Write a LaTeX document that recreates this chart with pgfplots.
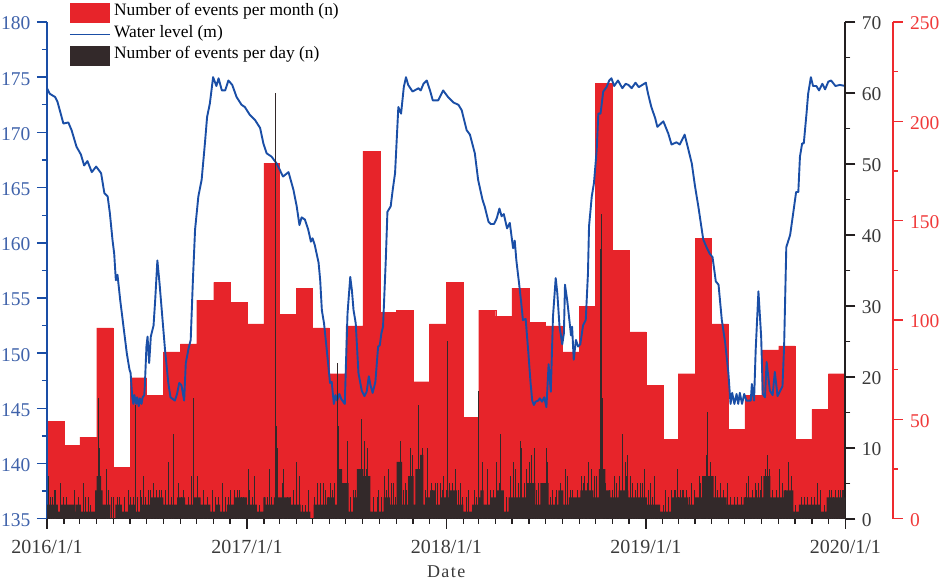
\documentclass[border=0pt]{standalone}
\usepackage{pgfplots}
\pgfplotsset{compat=1.18}
\usepackage{pgfplotstable}
\usepackage{fontspec}
\setmainfont{Liberation Serif}
\newfontfamily\datefont[LetterSpace=8]{Liberation Serif}
\definecolor{redbar}{HTML}{E7242A}
\definecolor{redaxis}{HTML}{EE2A2E}
\definecolor{redtext}{HTML}{F03A3A}
\definecolor{wblue}{HTML}{1A4EA6}
\definecolor{bluetext}{HTML}{3F62AA}
\definecolor{daily}{HTML}{33292A}
\definecolor{blackaxis}{HTML}{231F20}
\definecolor{graytext}{HTML}{3A3A3A}

\pgfplotstableread{
day n
0 49
31 37
60 41
91 96
121 26
152 71
182 62
213 84
244 88
274 110
305 119
335 109
366 98
397 179
425 103
456 116
486 96
517 73
547 97
578 185
609 104
639 105
670 69
700 98
731 119
762 51
790 105
821 102
851 116
882 99
912 97
943 84
974 107
1004 219
1035 135
1065 94
1096 67
1127 40
1155 73
1186 141
1216 98
1247 45
1277 62
1308 85
1339 87
1369 40
1400 55
1430 73
1461 73
}\monthly

\pgfplotstableread{
day level
0 174.0
5 173.5
15 173.2
19 172.8
24 171.9
30 170.8
39 170.9
45 170.2
54 168.7
62 168.0
68 167.0
74 167.4
82 166.4
90 166.9
99 166.3
105 164.5
111 164.2
115 162.7
120 160.2
123 159.0
126 156.6
129 157.1
134 154.8
140 152.4
146 150.0
151 148.5
153 148.2
156 146.0
158 145.4
160 146.2
163 145.4
165 146.0
168 145.2
170 145.9
173 145.4
175 146.0
178 146.2
179 147.0
182 150.6
184 151.5
187 149.1
190 151.5
195 152.5
198 154.8
202 158.4
206 156.3
210 153.9
216 150.3
222 147.3
226 146.0
234 145.7
238 146.3
242 147.3
246 147.1
251 145.7
254 149.1
259 150.4
263 151.2
267 156.6
271 161.2
277 164.2
283 165.7
289 169.0
293 171.4
298 172.6
304 175.0
310 174.2
314 174.9
320 173.8
326 173.8
332 174.7
339 174.3
347 173.2
356 172.5
362 172.3
371 171.6
381 171.1
390 170.4
396 169.0
402 168.1
411 167.8
420 167.2
432 166.0
442 166.4
451 164.8
457 163.3
462 161.6
466 162.3
472 162.1
478 161.2
483 160.1
486 160.4
490 159.8
497 158.2
500 156.6
503 153.9
507 152.7
512 150.3
518 147.3
521 147.4
525 145.4
528 146.2
531 145.7
535 146.3
539 145.8
545 145.4
547 148.8
550 153.6
555 156.9
558 155.7
561 153.9
565 152.7
570 148.2
576 146.6
581 146.1
585 146.5
589 147.9
592 147.1
596 146.4
601 147.4
606 150.6
609 150.7
612 151.8
615 152.4
619 157.2
620 158.4
623 162.8
629 163.3
633 164.9
637 166.3
643 172.3
648 171.7
653 174.1
657 175.0
661 174.3
669 173.7
680 174.0
684 173.8
689 174.4
695 174.7
701 173.8
706 172.9
716 172.9
725 173.8
734 173.2
744 172.7
753 172.5
759 172.0
768 170.2
774 169.8
783 168.1
789 165.7
797 163.9
801 163.3
808 161.9
812 161.7
818 161.7
823 162.2
828 163.1
832 162.4
836 162.6
842 161.3
847 161.8
853 159.5
856 160.2
859 158.4
864 156.3
868 154.5
871 153.0
876 153.1
881 150.0
885 147.3
888 145.7
891 145.3
894 145.6
899 145.7
902 145.9
906 145.6
910 146.0
914 145.1
918 149.0
922 146.5
926 153.3
931 156.8
934 155.4
938 152.4
943 150.8
946 151.8
948 156.2
952 154.8
956 153.0
959 151.6
961 152.4
964 149.4
968 151.2
972 150.6
976 150.8
981 152.5
986 153.0
990 157.2
992 161.5
997 164.2
1001 165.4
1006 168.4
1009 171.7
1013 171.7
1018 173.7
1024 174.1
1029 174.7
1033 174.9
1038 174.2
1045 174.7
1053 174.0
1059 174.4
1064 174.3
1070 174.0
1077 174.5
1083 174.1
1096 174.5
1100 173.5
1106 172.3
1113 171.3
1117 170.5
1128 171.0
1137 169.9
1143 168.9
1152 169.1
1158 168.9
1167 169.8
1174 168.4
1180 167.2
1186 165.1
1192 163.3
1201 160.3
1207 159.6
1213 159.0
1218 158.7
1224 156.5
1229 156.2
1235 153.0
1241 151.0
1247 148.2
1251 145.4
1254 146.4
1258 145.4
1262 146.3
1265 145.4
1268 146.4
1272 145.4
1276 146.3
1280 145.7
1288 145.7
1290 147.2
1294 145.7
1297 150.3
1302 155.6
1307 151.5
1310 146.3
1314 146.0
1317 149.2
1323 146.6
1328 146.2
1332 148.3
1337 146.1
1341 146.5
1346 147.0
1349 150.6
1353 159.6
1360 160.7
1364 162.1
1371 164.6
1375 164.6
1378 167.8
1382 169.0
1385 169.0
1390 171.7
1393 173.5
1398 175.0
1402 174.2
1408 174.2
1413 173.8
1419 174.4
1424 173.9
1430 174.6
1435 174.7
1443 174.2
1451 174.3
1461 174.2
}\water

\pgfplotstableread{
day n
0 2
20 1
24 2
50 1
52 2
62 1
85 1
88 4
91 6
99 4
102 2
116 0
125 2
137 1
149 2
162 1
174 2
189 3
213 2
238 3
253 2
268 3
281 2
299 1
308 2
317 1
329 2
342 3
366 2
384 1
396 3
400 2
415 3
445 2
464 1
482 0
488 2
512 3
525 2
531 7
540 5
552 1
561 3
567 7
579 6
592 1
616 3
628 2
640 8
650 2
661 6
671 2
674 7
683 9
689 2
692 3
701 4
711 2
720 3
732 3
735 4
750 2
762 1
778 2
790 3
793 4
799 2
811 3
824 4
836 1
845 3
878 5
894 2
903 5
918 2
936 4
945 2
955 3
976 4
1000 3
1010 7
1022 4
1031 3
1046 4
1064 3
1098 2
1122 1
1144 3
1174 2
1186 3
1199 6
1220 3
1244 2
1275 3
1311 6
1324 3
1348 4
1366 1
1376 2
1415 1
1427 3
1461 3
}\dailybase

\pgfplotstableread{
day n
3 6
7 3
10 3
13 4
16 4
24 5
30 3
36 3
44 2
50 4
57 3
67 5
70 3
75 3
80 2
94 17
95 10
109 7
112 4
118 3
122 3
128 3
133 3
142 3
148 4
152 3
158 3
161 16
162 5
166 3
170 4
173 3
177 6
180 3
185 4
190 4
195 5
200 4
205 4
210 4
217 4
223 8
228 3
232 12
241 5
245 3
250 4
258 3
264 6
268 17
275 6
287 4
293 3
302 4
308 3
313 3
321 5
326 3
331 3
336 4
342 4
348 4
352 4
356 3
360 3
369 7
371 4
375 3
379 6
389 2
398 3
404 3
407 7
411 3
418 60
419 13
421 10
422 10
430 5
433 7
440 3
446 3
451 4
456 8
461 6
468 2
472 2
478 4
490 3
495 5
500 5
505 5
510 4
515 3
518 5
522 4
526 5
532 22
533 13
538 6
543 5
546 5
550 11
556 3
560 4
565 4
572 7
575 14
580 11
584 7
587 10
590 4
597 3
604 3
607 4
611 3
618 6
621 4
624 7
630 5
634 5
637 3
642 8
647 11
652 4
655 5
658 4
665 10
669 9
679 16
687 10
692 4
697 10
703 5
706 4
710 5
715 5
720 5
724 4
726 6
730 4
733 25
737 5
742 5
747 7
752 4
756 5
760 3
768 3
772 4
782 4
786 3
789 18
797 8
805 7
812 4
816 4
822 8
828 5
830 12
840 3
848 6
853 8
857 7
862 5
867 11
869 10
873 5
877 7
883 8
886 9
892 10
896 4
900 5
908 5
914 10
915 8
921 3
925 4
930 3
933 4
940 5
949 7
952 6
958 4
962 4
970 4
978 6
982 5
984 6
988 5
991 8
996 7
1002 6
1006 6
1013 38
1014 43
1015 19
1016 17
1022 5
1029 4
1035 4
1039 6
1042 5
1048 6
1053 12
1058 8
1060 6
1063 9
1067 6
1072 5
1076 4
1080 5
1086 5
1090 5
1094 7
1101 4
1104 5
1108 3
1112 6
1118 2
1128 2
1132 4
1138 3
1142 4
1148 4
1150 4
1153 7
1156 3
1159 4
1162 4
1165 4
1170 4
1176 3
1180 5
1184 4
1193 6
1196 5
1206 9
1208 15
1209 9
1214 8
1216 4
1223 6
1227 4
1233 5
1238 4
1246 5
1250 3
1258 3
1264 3
1270 3
1278 3
1280 5
1284 6
1290 4
1296 5
1299 4
1302 5
1305 4
1308 6
1312 5
1315 7
1319 9
1322 7
1328 4
1335 4
1341 7
1345 5
1352 4
1357 8
1363 6
1370 2
1380 3
1386 3
1392 3
1398 3
1404 3
1410 5
1415 4
1422 2
1432 4
1436 4
1440 3
1443 4
1448 4
1452 4
1455 4
1458 4
}\dailyspikes

\pgfplotsset{
  base/.style={
    scale only axis, width=798.3bp, height=496.7bp,
    at={(47bp,62.3bp)}, anchor=south west,
    xmin=0, xmax=1461,
    axis line style={-},
    tick align=outside,
    major tick length=10bp, minor tick length=5bp,
    /pgf/number format/assume math mode=true,
    tick label style={font=\fontsize{19.5bp}{22bp}\selectfont},
  },
}

\begin{document}
\begin{tikzpicture}
\useasboundingbox (0,0) rectangle (941bp,581bp);

% monthly bars, right-hand red scale
\begin{axis}[base, hide axis, ymin=0, ymax=250]
\addplot[ybar interval, fill=redbar, draw=redbar, line width=0.2bp] table[x=day,y=n] {\monthly};
\end{axis}

% red scale drawn offset to the right
\begin{axis}[
  scale only axis, width=10bp, height=496.7bp,
  at={(882.7bp,62.3bp)}, anchor=south west,
  xmin=0, xmax=1, ymin=0, ymax=250,
  axis x line=none, axis y line*=right,
  axis line style={-},
  y axis line style={draw=redaxis, line width=1.7bp},
  tick align=outside,
  major tick length=10bp, minor tick length=5bp,
  ytick={0,50,100,150,200,250}, minor y tick num=1,
  y tick style={draw=redaxis, line width=1.5bp},
  minor y tick style={draw=redaxis, line width=1.3bp},
  /pgf/number format/assume math mode=true,
  y tick label style={font=\fontsize{19.5bp}{22bp}\selectfont, text=redtext, yshift=-1.5bp, xshift=4bp, anchor=west},
]
\end{axis}

% water level
\begin{axis}[base, ymin=135, ymax=180,
  axis x line=none, axis y line*=left,
  y axis line style={draw=wblue, line width=1.7bp},
  ytick={135,140,...,180}, minor y tick num=1,
  y tick style={draw=wblue, line width=1.5bp},
  minor y tick style={draw=wblue, line width=1.3bp},
  y tick label style={text=bluetext, yshift=-1.5bp, xshift=-3bp},
]
\addplot[color=wblue, line width=1.9bp, line join=round] table[x=day,y=level] {\water};
\end{axis}

% daily events, black scale and date axis
\begin{axis}[base, ymin=0, ymax=70,
  axis x line*=bottom, axis y line*=right,
  x axis line style={draw=blackaxis, line width=1.3bp},
  y axis line style={draw=blackaxis, line width=1.9bp},
  xtick={0,366,731,1096,1461},
  xticklabels={2016/1/1,2017/1/1,2018/1/1,2019/1/1,2020/1/1},
  minor xtick={31,60,91,121,152,182,213,244,274,305,335,397,425,456,486,517,547,578,609,639,670,700,762,790,821,851,882,912,943,974,1004,1035,1065,1127,1155,1186,1216,1247,1277,1308,1339,1369,1400,1430},
  x tick style={draw=blackaxis, line width=1.4bp},
  minor x tick style={draw=blackaxis, line width=1.2bp},
  x tick label style={text=graytext, font=\fontsize{20bp}{22bp}\selectfont, yshift=-7.5bp},
  ytick={0,10,...,70}, minor y tick num=1,
  y tick style={draw=blackaxis, line width=1.7bp},
  minor y tick style={draw=blackaxis, line width=1.4bp},
  y tick label style={text=graytext, yshift=-1.5bp, xshift=3bp, anchor=west},
  xlabel={\datefont Date},
  xlabel style={font=\fontsize{18bp}{20bp}\selectfont, text=graytext, inner sep=0pt, yshift=-8.5bp},
  legend style={
    at={(axis description cs:0.0279,1.0403)}, anchor=north west,
    draw=none, fill=none, inner sep=0pt, outer sep=0pt,
    row sep=0pt,
    nodes={inner sep=0pt, text height=14bp, text depth=7.5bp},
    font=\fontsize{17.4bp}{20bp}\selectfont,
  },
  legend cell align=left,
]
\addlegendimage{legend image code/.code={\path[fill=redbar, draw=none] (0bp,-9.8bp) rectangle (40bp,9.8bp);}}
\addlegendentry{\hspace*{3.5bp}Number of events per month (n)}
\addlegendimage{legend image code/.code={\draw[color=wblue, line width=1.3bp] (0bp,0bp) -- (40bp,0bp);}}
\addlegendentry{\hspace*{3.5bp}Water level (m)}
\addlegendimage{legend image code/.code={\path[fill=daily, draw=none] (0bp,-9.8bp) rectangle (40bp,9.8bp);}}
\addlegendentry{\hspace*{3.5bp}Number of events per day (n)}
\addplot[forget plot, const plot, fill=daily, draw=none] table[x=day,y=n] {\dailybase} \closedcycle;
\addplot[forget plot, ycomb, color=daily, line width=0.7bp, mark=none] table[x=day,y=n] {\dailyspikes};
\end{axis}
\end{tikzpicture}
\end{document}
